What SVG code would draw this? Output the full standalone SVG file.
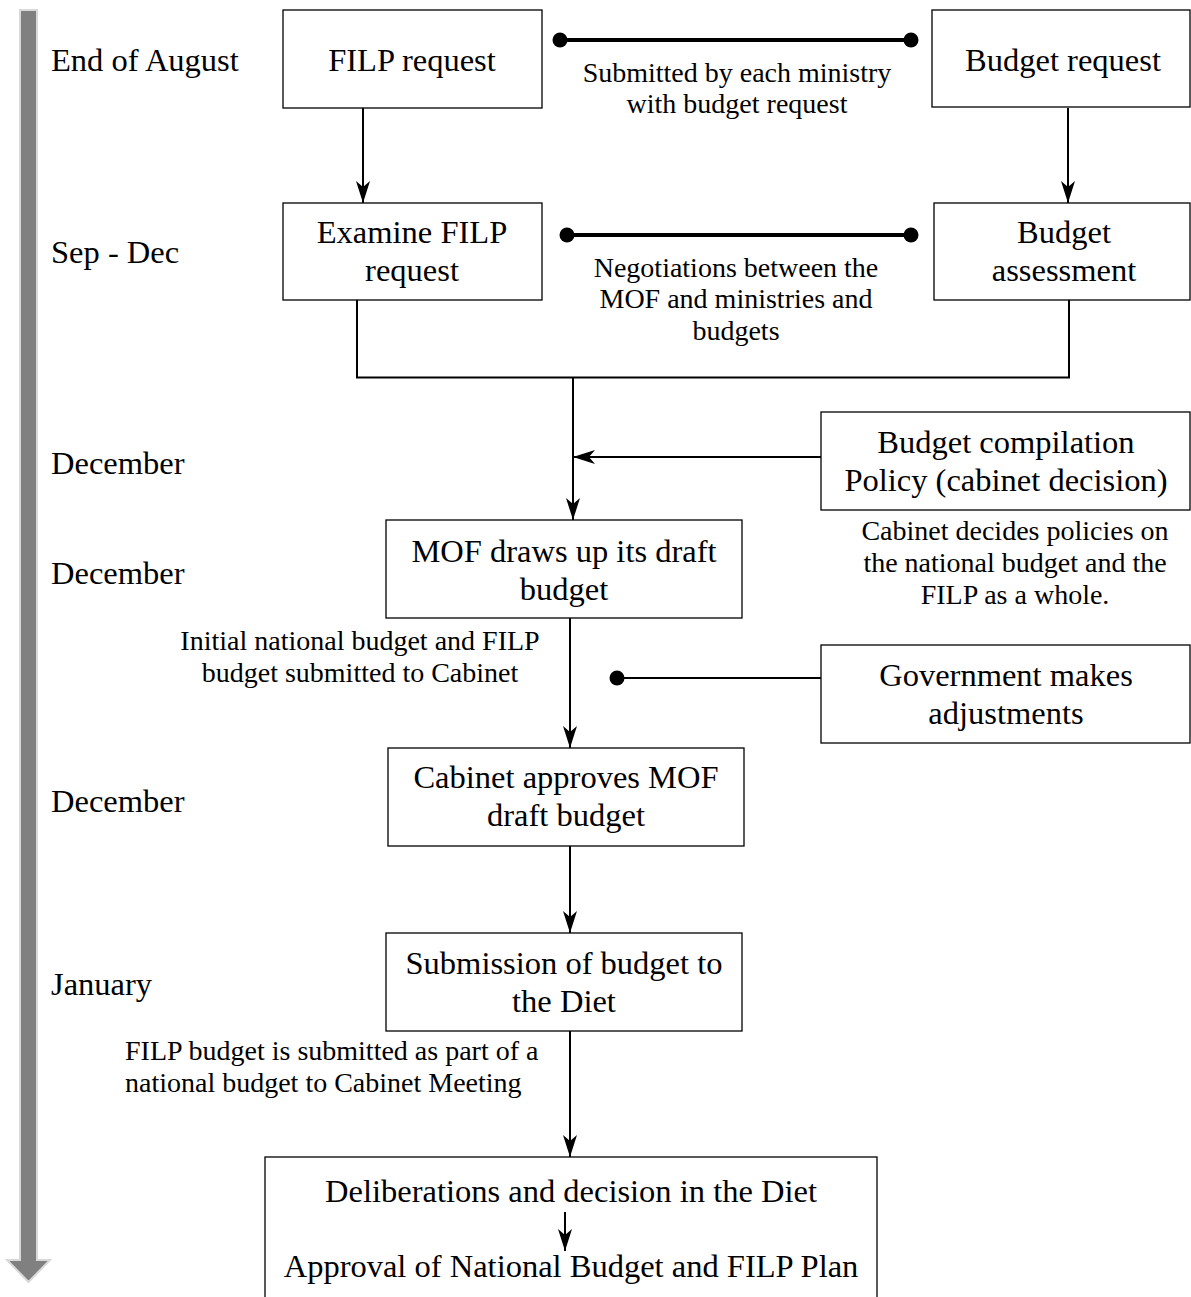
<svg xmlns="http://www.w3.org/2000/svg" width="1191" height="1297" viewBox="0 0 1191 1297">
<style>
text{font-family:"Liberation Serif","Times New Roman",serif;fill:#000}
.b{font-size:32.5px;text-anchor:middle}
.s{font-size:28px;text-anchor:middle}
.sl{font-size:28px;text-anchor:start}
.l{font-size:32.5px}
.box{fill:#fff;stroke:#000;stroke-width:1.3}
.c{fill:none;stroke:#000;stroke-width:2}
.d{fill:none;stroke:#000;stroke-width:4}
</style>
<defs>
<marker id="ah" markerUnits="userSpaceOnUse" markerWidth="24" markerHeight="16" refX="22" refY="7" orient="auto">
<path d="M0,0 L22,7 L0,14 L6,7 z" fill="#000"/>
</marker>
<marker id="dot" markerUnits="userSpaceOnUse" markerWidth="18" markerHeight="18" refX="9" refY="9">
<circle cx="9" cy="9" r="7.5" fill="#000"/>
</marker>
</defs>
<g id="timeline">
<path d="M20,10 H37 V1260 H50 L28.5,1282 L7,1260 H20 Z" fill="#808080" stroke="#d9d9d9" stroke-width="2"/>
<text class="l" x="51" y="71">End of August</text>
<text class="l" x="51" y="263">Sep - Dec</text>
<text class="l" x="51" y="474">December</text>
<text class="l" x="51" y="584">December</text>
<text class="l" x="51" y="812">December</text>
<text class="l" x="51" y="995">January</text>
</g>
<g id="n-filp-request">
<rect class="box" x="283" y="10" width="259" height="98"/>
<text class="b" x="412" y="71">FILP request</text>
</g>
<g id="n-submitted-label">
<text class="s" x="737" y="82">Submitted by each ministry</text>
<text class="s" x="737" y="113">with budget request</text>
</g>
<g id="n-budget-request">
<rect class="box" x="932" y="10" width="258" height="97"/>
<text class="b" x="1063" y="71">Budget request</text>
</g>
<g id="n-examine">
<rect class="box" x="283" y="203" width="259" height="97"/>
<text class="b" x="412" y="243">Examine FILP</text>
<text class="b" x="412" y="281">request</text>
</g>
<g id="n-negotiations-label">
<text class="s" x="736" y="277">Negotiations between the</text>
<text class="s" x="736" y="308">MOF and ministries and</text>
<text class="s" x="736" y="340">budgets</text>
</g>
<g id="n-budget-assessment">
<rect class="box" x="934" y="203" width="256" height="97"/>
<text class="b" x="1064" y="243">Budget</text>
<text class="b" x="1064" y="281">assessment</text>
</g>
<g id="n-compilation">
<rect class="box" x="821" y="412" width="369" height="98"/>
<text class="b" x="1006" y="453">Budget compilation</text>
<text class="b" x="1006" y="491">Policy (cabinet decision)</text>
</g>
<g id="n-cabinet-decides-label">
<text class="s" x="1015" y="540">Cabinet decides policies on</text>
<text class="s" x="1015" y="572">the national budget and the</text>
<text class="s" x="1015" y="604">FILP as a whole.</text>
</g>
<g id="n-mof-draft">
<rect class="box" x="386" y="520" width="356" height="98"/>
<text class="b" x="564" y="562">MOF draws up its draft</text>
<text class="b" x="564" y="600">budget</text>
</g>
<g id="n-initial-label">
<text class="s" x="360" y="650">Initial national budget and FILP</text>
<text class="s" x="360" y="682">budget submitted to Cabinet</text>
</g>
<g id="n-government">
<rect class="box" x="821" y="645" width="369" height="98"/>
<text class="b" x="1006" y="686">Government makes</text>
<text class="b" x="1006" y="724">adjustments</text>
</g>
<g id="n-cabinet-approves">
<rect class="box" x="388" y="748" width="356" height="98"/>
<text class="b" x="566" y="788">Cabinet approves MOF</text>
<text class="b" x="566" y="826">draft budget</text>
</g>
<g id="n-submission">
<rect class="box" x="386" y="933" width="356" height="98"/>
<text class="b" x="564" y="974">Submission of budget to</text>
<text class="b" x="564" y="1012">the Diet</text>
</g>
<g id="n-filp-part-label">
<text class="sl" x="125" y="1060">FILP budget is submitted as part of a</text>
<text class="sl" x="125" y="1092">national budget to Cabinet Meeting</text>
</g>
<g id="n-deliberations">
<rect class="box" x="265" y="1157" width="612" height="150"/>
<text class="b" x="571" y="1202">Deliberations and decision in the Diet</text>
<text class="b" x="571" y="1277">Approval of National Budget and FILP Plan</text>
</g>
<g id="connectors">
<line class="c" x1="363" y1="108" x2="363" y2="203" marker-end="url(#ah)"/>
<line class="c" x1="1068" y1="108" x2="1068" y2="203" marker-end="url(#ah)"/>
<line class="d" x1="560" y1="40" x2="911" y2="40" marker-start="url(#dot)" marker-end="url(#dot)"/>
<line class="d" x1="567" y1="235" x2="911" y2="235" stroke-width="3" marker-start="url(#dot)" marker-end="url(#dot)"/>
<polyline class="c" points="357,300 357,377.5 1069,377.5 1069,300"/>
<line class="c" x1="573" y1="377" x2="573" y2="520" marker-end="url(#ah)"/>
<line class="c" x1="821" y1="457" x2="573" y2="457" marker-end="url(#ah)"/>
<line class="c" x1="570" y1="618" x2="570" y2="748" marker-end="url(#ah)"/>
<line class="c" x1="821" y1="678" x2="617" y2="678" marker-end="url(#dot)"/>
<line class="c" x1="570" y1="846" x2="570" y2="933" marker-end="url(#ah)"/>
<line class="c" x1="570" y1="1031" x2="570" y2="1157" marker-end="url(#ah)"/>
<line class="c" x1="565" y1="1212" x2="565" y2="1251" marker-end="url(#ah)"/>
</g>
</svg>
